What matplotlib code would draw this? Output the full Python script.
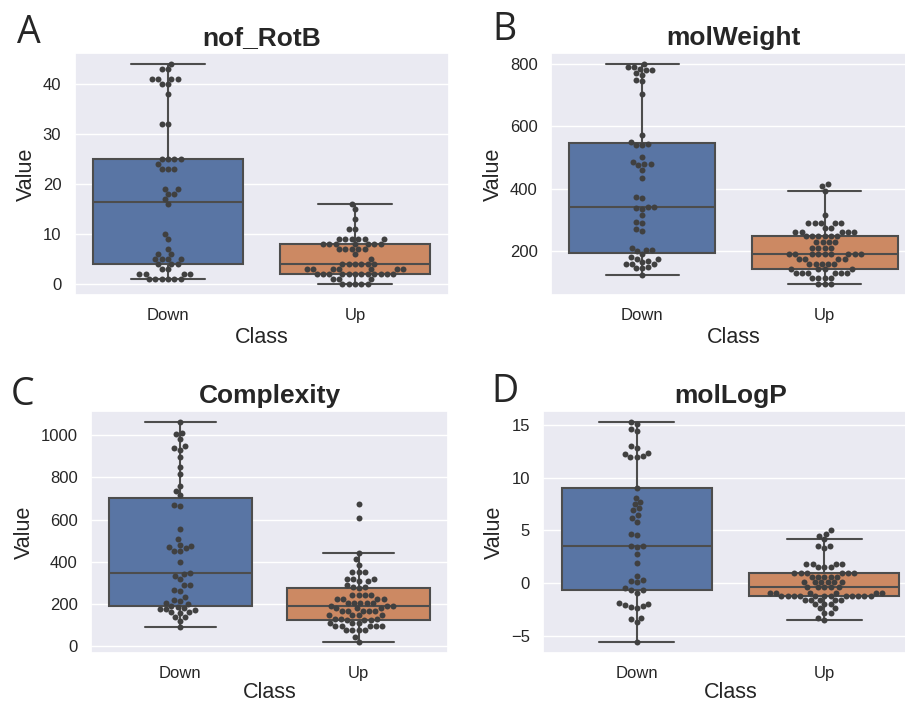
import matplotlib
matplotlib.use("Agg")
import matplotlib.pyplot as plt
import seaborn as sns
import pandas as pd

classes = ["Down", "Up"]

rotb_down = [44, 43, 43, 41, 41, 41, 41, 40, 40, 38, 32, 32, 25, 25, 25, 25, 24, 23, 23,
             23, 19, 19, 18, 18, 17, 16, 10, 9, 7, 6, 6, 5, 5, 5, 5, 4, 4, 4, 3, 3,
             2, 2, 2, 2, 1, 1, 1, 1, 1, 1]
rotb_up = [16, 15, 13, 11, 11, 9, 9, 9, 9, 9, 9, 8, 8, 8, 8, 8, 8, 8, 7, 7, 7, 7, 7,
           6, 5, 4, 4, 4, 4, 4, 4, 3, 3, 3, 3, 3, 3, 3,
           2, 2, 2, 2, 2, 2, 2, 2, 2, 2, 2, 2, 1, 1, 1, 0, 0, 0, 0, 0]

mw_down = [125, 145, 145, 150, 160, 160, 160, 165, 170, 175, 175, 180, 190, 200, 205,
           205, 210, 265, 270, 290, 295, 315, 335, 340, 342, 343, 370, 375, 435, 460,
           475, 480, 480, 485, 503, 540, 540, 543, 550, 573, 705, 745, 750, 765, 770,
           780, 780, 785, 790, 790, 800]
mw_up = [95, 95, 95, 115, 115, 115, 115, 130, 130, 130, 130, 130, 130, 143, 143, 143,
         143, 160, 160, 160, 160, 160, 175, 175, 175, 175, 190, 190, 190, 190, 190,
         190, 190, 190, 190, 210, 210, 210, 210, 228, 228, 228, 228, 248, 248, 248,
         248, 248, 248, 262, 262, 262, 262, 262, 275, 275, 290, 290, 290, 290, 290,
         315, 393, 410, 415]

cx_down = [91, 120, 138, 140, 158, 160, 162, 172, 175, 178, 180, 185, 190, 200, 205,
           215, 220, 233, 264, 267, 288, 290, 320, 335, 343, 347, 401, 450, 453, 465,
           470, 475, 481, 508, 555, 665, 668, 717, 736, 759, 815, 849, 896, 932, 940,
           948, 984, 1005, 1011, 1063]
cx_up = [20, 44, 75, 75, 75, 75, 94, 94, 94, 94, 94, 110, 110, 110, 123, 123, 123,
         131, 131, 131, 146, 146, 146, 146, 167, 167, 167, 167, 167, 180, 180, 180,
         190, 190, 190, 205, 205, 205, 205, 205, 225, 225, 225, 225, 245, 245, 245,
         245, 278, 283, 283, 290, 308, 308, 319, 319, 319, 351, 351, 351, 387, 413,
         440, 607, 676]

logp_down = [-5.6, -3.7, -3.4, -3.3, -2.4, -2.3, -2.2, -2.1, -2.0, -1.9, -0.9, -0.7,
             -0.7, -0.5, 0.1, 0.2, 0.3, 0.7, 1.9, 2.8, 3.4, 3.5, 3.5, 4.6, 4.7, 5.8,
             6.2, 6.5, 6.9, 7.1, 7.5, 7.7, 8.1, 9.0, 12.0, 12.0, 12.1, 12.3, 12.4,
             12.8, 13.0, 14.4, 14.6, 15.1, 15.3]
logp_up = [-3.5, -3.3, -2.8, -2.8, -2.4, -2.4, -2.0, -2.0, -2.0,
           -1.6, -1.6, -1.6, -1.6, -1.6,
           -1.2, -1.2, -1.2, -1.2, -1.2, -1.2, -1.2, -1.2, -1.2, -1.2, -1.2, -1.2,
           -0.9, -0.9, -0.9, -0.9, -0.9, -0.9, -0.4, -0.4, -0.4, -0.4, -0.4,
           0.1, 0.1, 0.1, 0.1, 0.1, 0.1, 0.6, 0.6, 0.6, 0.6, 0.6,
           0.95, 0.95, 0.95, 0.95, 0.95, 0.95, 1.5, 1.5, 1.5, 1.8, 1.8, 1.8, 1.8,
           3.3, 3.5, 3.5, 4.15, 4.5, 4.7, 5.0]

panels = [
    ("A", "nof_RotB", rotb_down, rotb_up, (74.5, 53, 448.5, 295), (17, 43), 3),
    ("B", "molWeight", mw_down, mw_up, (551, 53, 916, 295), (492, 40), 3),
    ("C", "Complexity", cx_down, cx_up, (91, 411, 448, 653), (11, 405), 0.5),
    ("D", "molLogP", logp_down, logp_up, (543, 411, 918, 653), (491, 402), 0.5),
]

sns.set_theme(style="darkgrid")
plt.rcParams['font.family'] = ['Liberation Sans', 'DejaVu Sans']

W, H = 905, 703
fig = plt.figure(figsize=(W / 100, H / 100), dpi=100)

for letter, title, down, up, (x0, y0, x1, y1), (lx, ly), lpad in panels:
    ax = fig.add_axes([x0 / W, 1 - y1 / H, (x1 - x0) / W, (y1 - y0) / H])
    df = pd.DataFrame({"Class": ["Down"] * len(down) + ["Up"] * len(up),
                       "Value": list(down) + list(up)})
    sns.boxplot(data=df, x="Class", y="Value", hue="Class", order=classes,
                hue_order=classes, palette="deep", legend=False, linecolor=".3",
                linewidth=1.5, fliersize=0, ax=ax)
    sns.swarmplot(data=df, x="Class", y="Value", order=classes, color=".25",
                  size=4.3, ax=ax)
    ax.set_title(title, fontsize=19, fontweight="bold")
    ax.set_xlabel("Class", fontsize=15.5, labelpad=lpad)
    ax.set_ylabel("Value", fontsize=15.5)
    ax.tick_params(labelsize=12)
    fig.text(lx / W, 1 - ly / H, letter, fontsize=27, family="Open Sans",
             va="baseline", ha="left")

fig.savefig("out.png", dpi=100)
